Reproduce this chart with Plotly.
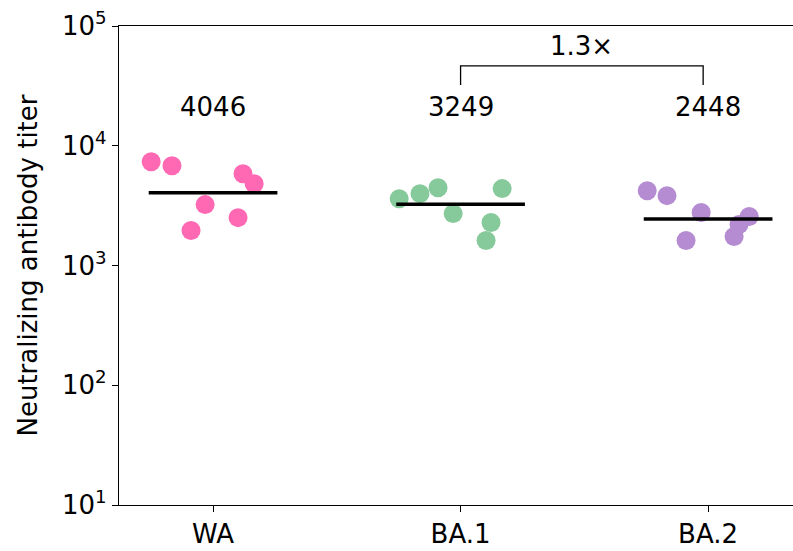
import plotly.graph_objects as go

categories = ["WA", "BA.1", "BA.2"]
colors = ["#ff69b4", "#86c99a", "#b58bd2"]

# titers per group
wa_vals = [7360, 6810, 5840, 4820, 3225, 2510, 1958]
ba1_vals = [3615, 3981, 4467, 2712, 4385, 2282, 1616]
ba2_vals = [4217, 3831, 2766, 1616, 2561, 2197, 1745]
# horizontal jitter offsets (category units)
wa_jit = [-0.25, -0.166, 0.121, 0.166, -0.032, 0.101, -0.089]
ba1_jit = [-0.248, -0.164, -0.091, -0.03, 0.168, 0.123, 0.103]
ba2_jit = [-0.246, -0.166, -0.028, -0.089, 0.166, 0.125, 0.105]

summary = [4046, 3249, 2448]
fold_label = "1.3×"
y_title = "Neutralizing antibody titer"
ytick_vals = [10, 100, 1000, 10000, 100000]
ytick_text = ["10<sup>1</sup>", "10<sup>2</sup>", "10<sup>3</sup>", "10<sup>4</sup>", "10<sup>5</sup>"]

values = [wa_vals, ba1_vals, ba2_vals]
jitters = [wa_jit, ba1_jit, ba2_jit]

FONT = "DejaVu Sans"
FS = 26
fig = go.Figure()

for i, (vals, jit, col) in enumerate(zip(values, jitters, colors)):
    fig.add_trace(go.Scatter(
        x=[i + j for j in jit], y=vals, mode="markers",
        marker=dict(size=19, color=col, line=dict(width=0)),
        showlegend=False, hoverinfo="skip"))
    fig.add_trace(go.Scatter(
        x=[i - 0.26, i + 0.26], y=[summary[i], summary[i]], mode="lines",
        line=dict(color="black", width=3.5), showlegend=False, hoverinfo="skip"))
    fig.add_annotation(x=i, y=4.32, text=str(summary[i]), showarrow=False,
                       font=dict(family=FONT, size=FS, color="black"),
                       xanchor="center", yanchor="middle")

# bracket between BA.1 and BA.2
fig.add_trace(go.Scatter(
    x=[1, 1, 1.98, 1.98], y=[10**4.508, 10**4.667, 10**4.667, 10**4.508],
    mode="lines", line=dict(color="black", width=1.3),
    showlegend=False, hoverinfo="skip"))
fig.add_annotation(x=1.49, y=4.83, text=fold_label, showarrow=False,
                   font=dict(family=FONT, size=FS, color="black"),
                   xanchor="center", yanchor="middle")

# y-axis title
fig.add_annotation(xref="paper", yref="paper", x=0, y=0.5, xshift=-92,
                   text=y_title, textangle=-90, showarrow=False,
                   font=dict(family=FONT, size=FS, color="black"),
                   xanchor="center", yanchor="middle")

fig.update_layout(
    width=793, height=551,
    margin=dict(l=119, r=0, t=26, b=46),
    plot_bgcolor="white", paper_bgcolor="white",
    font=dict(family=FONT, size=FS, color="black"),
)
fig.update_xaxes(
    range=[-0.38, 2.343], tickmode="array", tickvals=[0, 1, 2], ticktext=categories,
    showline=True, linecolor="black", linewidth=1.3, mirror=True,
    ticks="outside", ticklen=6, tickwidth=1.3, tickcolor="black",
    showgrid=False, zeroline=False, tickfont=dict(family=FONT, size=FS),
    automargin=False, ticklabeloverflow="allow",
)
fig.update_yaxes(
    type="log", range=[1, 5],
    tickmode="array", tickvals=ytick_vals, ticktext=ytick_text,
    showline=True, linecolor="black", linewidth=1.3, mirror=False,
    ticks="outside", ticklen=6, tickwidth=1.3, tickcolor="black",
    showgrid=False, zeroline=False, tickfont=dict(family=FONT, size=FS),
    automargin=False, ticklabeloverflow="allow",
)

fig.write_html(
    "out.html",
    config={"displayModeBar": False},
    post_script="document.body.style.margin='0';document.body.style.overflow='hidden';",
)
